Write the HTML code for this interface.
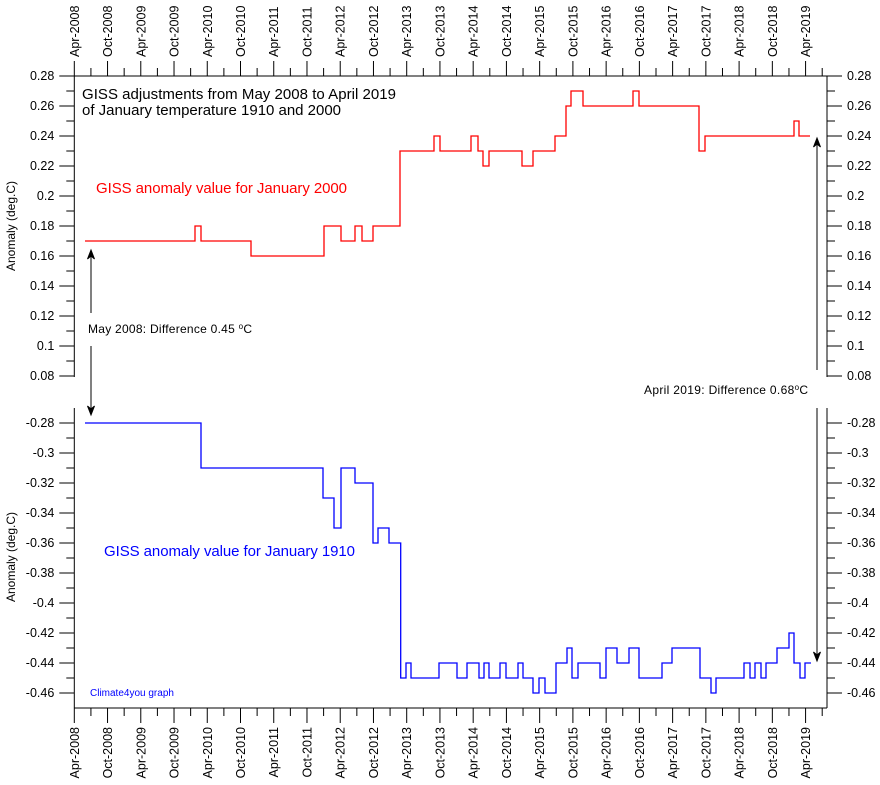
<!DOCTYPE html>
<html><head><meta charset="utf-8"><style>
html,body{margin:0;padding:0;background:#fff}
svg{display:block;font-family:"Liberation Sans",Arial,sans-serif}
</style></head><body>
<svg id="s" width="880" height="785" xmlns="http://www.w3.org/2000/svg"></svg>
<script>
const s=document.getElementById('s');let h='';
const L=74.3,R=827,T=76,B=708,dx=5.54;
h+=`<line x1="${L}" y1="${T}" x2="${R}" y2="${T}" stroke="#000"/>`;
h+=`<line x1="${L}" y1="${B}" x2="${R}" y2="${B}" stroke="#000"/>`;
h+=`<line x1="${L}" y1="${T}" x2="${L}" y2="377" stroke="#000"/>`;
h+=`<line x1="${L}" y1="408" x2="${L}" y2="${B}" stroke="#000"/>`;
h+=`<line x1="${R}" y1="${T}" x2="${R}" y2="377" stroke="#000"/>`;
h+=`<line x1="${R}" y1="408" x2="${R}" y2="${B}" stroke="#000"/>`;
for(let q=0;q<=45;q++){const x=L+q*3*dx;if(x>R)break;const maj=q%2==0;const len=maj?15:8;
h+=`<line x1="${x}" y1="${T}" x2="${x}" y2="${T-len}" stroke="#000"/>`;
h+=`<line x1="${x}" y1="${B}" x2="${x}" y2="${B+len}" stroke="#000"/>`;
if(maj){const k=q/2;const yr=2008+Math.floor(k/2);const lab=(k%2?'Oct-':'Apr-')+yr;
h+=`<text transform="translate(${x+4.5},${T-19}) rotate(-90)" font-size="12.5">${lab}</text>`;
h+=`<text transform="translate(${x+4.5},${B+19}) rotate(-90)" font-size="12.5" text-anchor="end">${lab}</text>`;}}
function yt(y,maj,lab){const len=maj?15:8;
h+=`<line x1="${L}" y1="${y}" x2="${L-len}" y2="${y}" stroke="#000"/>`;
h+=`<line x1="${R}" y1="${y}" x2="${R+len}" y2="${y}" stroke="#000"/>`;
if(maj){h+=`<text x="${L-20}" y="${y+4}" font-size="12.5" text-anchor="end">${lab}</text>`;
h+=`<text x="${R+20}" y="${y+4}" font-size="12.5">${lab}</text>`;}}
for(let i=0;i<=20;i++){const v=28-i;yt(T+i*15,i%2==0,(v/100).toString());}
for(let i=0;i<=19;i++){const v=-28-i;const y=423+i*15;if(y>B-1)break;yt(y,i%2==0,(v/100).toString());}
function step(pts,col,f){let d='';pts.forEach((p,i)=>{const y=f(p[1]);if(i==0)d+=`M${p[0]},${y}`;else d+=`V${y}`;d+=`H${p[2]}`;});
h+=`<path d="${d}" fill="none" stroke="${col}" stroke-width="1.3"/>`;}
const fu=v=>76+(0.28-v)*1500, fl=v=>423+(-0.28-v)*1500;
const red=[[85,.17,195],[0,.18,201],[0,.17,251],[0,.16,324],[0,.18,341],[0,.17,355],[0,.18,362],[0,.17,373],[0,.18,400],[0,.23,434],[0,.24,440],[0,.23,471],[0,.24,478],[0,.23,483],[0,.22,489],[0,.23,522],[0,.22,533],[0,.23,555],[0,.24,566],[0,.26,571],[0,.27,583],[0,.26,633],[0,.27,639],[0,.26,699],[0,.23,705],[0,.24,794],[0,.25,799],[0,.24,810]];
step(red,'#f00',fu);
const bl=[[85,-.28,201],[0,-.31,323],[0,-.33,334],[0,-.35,341],[0,-.31,355],[0,-.32,373],[0,-.36,378],[0,-.35,389],[0,-.36,400.7],[0,-.45,406],[0,-.44,411],[0,-.45,439],[0,-.44,457],[0,-.45,467],[0,-.44,479],[0,-.45,484],[0,-.44,489],[0,-.45,500],[0,-.44,506],[0,-.45,518],[0,-.44,523],[0,-.45,533],[0,-.46,539],[0,-.45,545],[0,-.46,556],[0,-.44,567],[0,-.43,572],[0,-.45,578],[0,-.44,600],[0,-.45,606],[0,-.43,617],[0,-.44,629],[0,-.43,639],[0,-.45,662],[0,-.44,672],[0,-.43,700],[0,-.45,711],[0,-.46,716],[0,-.45,744],[0,-.44,750],[0,-.45,755],[0,-.44,761],[0,-.45,766],[0,-.44,777],[0,-.43,789],[0,-.42,794],[0,-.44,800],[0,-.45,805],[0,-.44,811]];
step(bl,'#00f',fl);
function arr(x,y1,y2){const dir=y2<y1?1:-1;
h+=`<line x1="${x}" y1="${y1}" x2="${x}" y2="${y2}" stroke="#000"/>`;
h+=`<path d="M${x},${y2} L${x-3.5},${y2+9*dir} L${x},${y2+6*dir} L${x+3.5},${y2+9*dir}Z" fill="#000" stroke="#000"/>`;}
arr(91,313,250);arr(91,346,415);arr(817,370,138);arr(817,408,661);
h+=`<text x="82" y="99" font-size="15" textLength="314">GISS adjustments from May 2008 to April 2019</text>`;
h+=`<text x="82" y="115" font-size="15" textLength="259">of January temperature 1910 and 2000</text>`;
h+=`<text x="96" y="193" font-size="15" fill="#f00" textLength="251">GISS anomaly value for January 2000</text>`;
h+=`<text x="104" y="556" font-size="15" fill="#00f" textLength="251">GISS anomaly value for January 1910</text>`;
h+=`<text x="88" y="333" font-size="12" textLength="164">May 2008: Difference 0.45 <tspan font-size="8" dy="-4">o</tspan><tspan dy="4">C</tspan></text>`;
h+=`<text x="644" y="394" font-size="12" textLength="164">April 2019: Difference 0.68<tspan font-size="8" dy="-4">o</tspan><tspan dy="4">C</tspan></text>`;
h+=`<text x="90" y="696" font-size="10" fill="#00f">Climate4you graph</text>`;
h+=`<text transform="translate(15,226) rotate(-90)" font-size="12" text-anchor="middle">Anomaly (deg.C)</text>`;
h+=`<text transform="translate(15,557) rotate(-90)" font-size="12" text-anchor="middle">Anomaly (deg.C)</text>`;
s.innerHTML=h;
</script>
</body></html>
